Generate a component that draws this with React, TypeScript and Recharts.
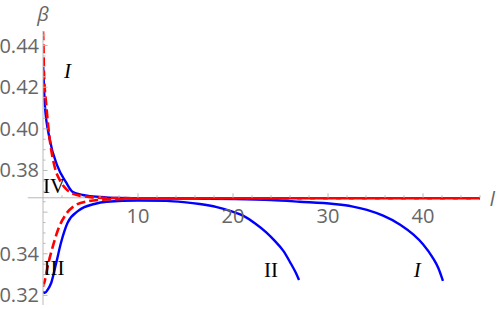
import React from 'react';
import { LineChart, Line, XAxis, YAxis, ReferenceLine, ReferenceDot } from 'recharts';

// chart frame
const W = 498;
const H = 309;
const MARGIN = { top: 31, right: 18, bottom: 3, left: 0 };
const Y_AXIS_W = 43;
const X_AXIS_H = 1;
const PLOT_H = H - MARGIN.top - MARGIN.bottom - X_AXIS_H;

const X_DOMAIN: [number, number] = [0, 46];
const Y_DOMAIN: [number, number] = [0.3154, 0.447];
const AXIS_Y = 0.3669; // where the l axis crosses
const AXIS_X_START = -1.6;

const AXIS_COLOR = '#b9b9b9';
const LABEL_COLOR = '#666666';
const TICK_FONT = '"Open Sans", sans-serif';
const TICK_SIZE = 20;

// ticks
const xTicks = [2, 4, 6, 8, 10, 12, 14, 16, 18, 20, 22, 24, 26, 28, 30, 32, 34, 36, 38, 40, 42, 44, 46];
const xTickLabels = [10, 20, 30, 40];
const yTicks = [
  0.32, 0.325, 0.33, 0.335, 0.34, 0.345, 0.35, 0.355, 0.36, 0.365, 0.37, 0.375, 0.38,
  0.385, 0.39, 0.395, 0.4, 0.405, 0.41, 0.415, 0.42, 0.425, 0.43, 0.435, 0.44, 0.445,
];
const yMajor = [0.32, 0.34, 0.36, 0.38, 0.4, 0.42, 0.44];
const yTickLabels = [0.32, 0.34, 0.38, 0.4, 0.42, 0.44];

// curves: [l, beta]
const blueI = [
  [0, 0.4325], [0.2, 0.4112], [0.7, 0.3952], [1.5, 0.3823], [2.4, 0.3745], [3.1, 0.3698],
  [4, 0.3684], [5, 0.3677], [6.6, 0.3671], [8, 0.3668], [12, 0.3666], [16, 0.3665],
  [20, 0.3663], [24, 0.3658], [27, 0.365], [30.6, 0.3639], [32.5, 0.3628], [34.1, 0.3611],
  [35.8, 0.3583], [37.6, 0.354], [39, 0.3492], [40, 0.3446], [41, 0.3383], [41.6, 0.3333],
  [42.1, 0.327],
];
const blueII = [
  [0, 0.3219], [0.2, 0.3212], [0.5, 0.3228], [0.87, 0.3261], [1.4, 0.3358], [1.9, 0.3454],
  [2.6, 0.355], [3.7, 0.3606], [5.4, 0.3639], [6.7, 0.365], [10, 0.3656], [13, 0.3654],
  [14.8, 0.3648], [16.5, 0.3639], [18.3, 0.3624], [19.7, 0.3606], [21.1, 0.3582],
  [22.3, 0.3547], [23.5, 0.3503], [24.4, 0.3462], [25.3, 0.3414], [26.1, 0.3352],
  [26.6, 0.331], [26.95, 0.3274],
];
const redIV = [
  [0, 0.4468], [0.05, 0.44], [0.1, 0.4273], [0.35, 0.4112], [0.7, 0.3952], [1.2, 0.3823],
  [1.9, 0.3743], [2.5, 0.3708], [3.2, 0.3688], [4, 0.3678], [5, 0.3672], [7, 0.3668],
  [10, 0.3667], [46, 0.3667],
];
const redIII = [
  [0, 0.3242], [0.18, 0.3269], [0.5, 0.3341], [1.05, 0.3438], [1.6, 0.3518], [2.3, 0.3582],
  [3.3, 0.363], [4.7, 0.3652], [6.7, 0.3661], [10, 0.3665], [14, 0.3667], [46, 0.3667],
];

const notes = [
  { l: 2.58, b: 0.4278, text: 'I', italic: true },
  { l: 1.16, b: 0.3726, text: 'IV', italic: false },
  { l: 1.16, b: 0.3334, text: 'III', italic: false },
  { l: 24.0, b: 0.3322, text: 'II', italic: false },
  { l: 39.4, b: 0.3322, text: 'I', italic: true },
];

const axisNames = [
  { l: 0, b: 0.4551, text: 'β' },
  { l: 47.3, b: 0.3663, text: 'l' },
];

const toPoints = (pts: number[][]) => pts.map(([l, b]) => ({ l, b }));

const axisPx =
  MARGIN.top + ((Y_DOMAIN[1] - AXIS_Y) / (Y_DOMAIN[1] - Y_DOMAIN[0])) * PLOT_H;
const plotLeft = MARGIN.left + Y_AXIS_W;

const XTick = (props: any) => {
  const { x, payload } = props;
  const major = xTickLabels.includes(payload.value);
  return (
    <g>
      <line x1={x} x2={x} y1={axisPx} y2={axisPx - (major ? 4.5 : 2.5)} stroke={AXIS_COLOR} />
      {major && (
        <text x={x} y={axisPx + 25} textAnchor="middle" fontSize={TICK_SIZE} fontFamily={TICK_FONT} fill={LABEL_COLOR}>
          {payload.value}
        </text>
      )}
    </g>
  );
};

const YTick = (props: any) => {
  const { y, payload } = props;
  const v = Math.round(payload.value * 1000) / 1000;
  const major = yMajor.includes(v);
  const labelled = yTickLabels.includes(v);
  return (
    <g>
      <line x1={plotLeft} x2={plotLeft + (major ? 4.5 : 2.5)} y1={y} y2={y} stroke={AXIS_COLOR} />
      {labelled && (
        <text x={plotLeft - 4} y={y} dy="0.35em" textAnchor="end" fontSize={TICK_SIZE} fontFamily={TICK_FONT} fill={LABEL_COLOR}>
          {v.toFixed(2)}
        </text>
      )}
    </g>
  );
};

const noteShape = (text: string, italic: boolean, color: string, font: string, size: number) => (p: any) => (
  <text
    x={p.cx}
    y={p.cy}
    dy="0.35em"
    textAnchor="middle"
    fontSize={size}
    fontFamily={font}
    fontStyle={italic ? 'italic' : 'normal'}
    fill={color}
  >
    {text}
  </text>
);

export default function App() {
  return (
    <div style={{ position: 'absolute', left: 0, top: 0, width: W, height: H, background: '#fff' }}>
      <LineChart width={W} height={H} margin={MARGIN}>
        <XAxis
          type="number"
          dataKey="l"
          domain={X_DOMAIN}
          allowDataOverflow
          ticks={xTicks}
          interval={0}
          height={X_AXIS_H}
          axisLine={false}
          tickLine={false}
          tick={<XTick />}
        />
        <YAxis
          type="number"
          dataKey="b"
          domain={Y_DOMAIN}
          allowDataOverflow
          ticks={yTicks}
          interval={0}
          width={Y_AXIS_W}
          axisLine={{ stroke: AXIS_COLOR }}
          tickLine={false}
          tick={<YTick />}
        />
        <ReferenceLine
          segment={[{ x: AXIS_X_START, y: AXIS_Y }, { x: X_DOMAIN[1], y: AXIS_Y }]}
          stroke={AXIS_COLOR}
          ifOverflow="visible"
        />
        <Line data={toPoints(blueI)} dataKey="b" type="monotone" stroke="#0000ff" strokeWidth={2.4} dot={false} isAnimationActive={false} />
        <Line data={toPoints(blueII)} dataKey="b" type="monotone" stroke="#0000ff" strokeWidth={2.4} dot={false} isAnimationActive={false} />
        <Line data={toPoints(redIV)} dataKey="b" type="monotone" stroke="#ff0000" strokeWidth={2.6} strokeDasharray="9 4" dot={false} isAnimationActive={false} />
        <Line data={toPoints(redIII)} dataKey="b" type="monotone" stroke="#ff0000" strokeWidth={2.6} strokeDasharray="9 4" dot={false} isAnimationActive={false} />
        {notes.map((n, i) => (
          <ReferenceDot
            key={'n' + i}
            x={n.l}
            y={n.b}
            r={0}
            ifOverflow="visible"
            shape={noteShape(n.text, n.italic, '#000', '"Liberation Serif", serif', 21)}
          />
        ))}
        {axisNames.map((n, i) => (
          <ReferenceDot
            key={'a' + i}
            x={n.l}
            y={n.b}
            r={0}
            ifOverflow="visible"
            shape={noteShape(n.text, true, LABEL_COLOR, TICK_FONT, 20)}
          />
        ))}
      </LineChart>
    </div>
  );
}
